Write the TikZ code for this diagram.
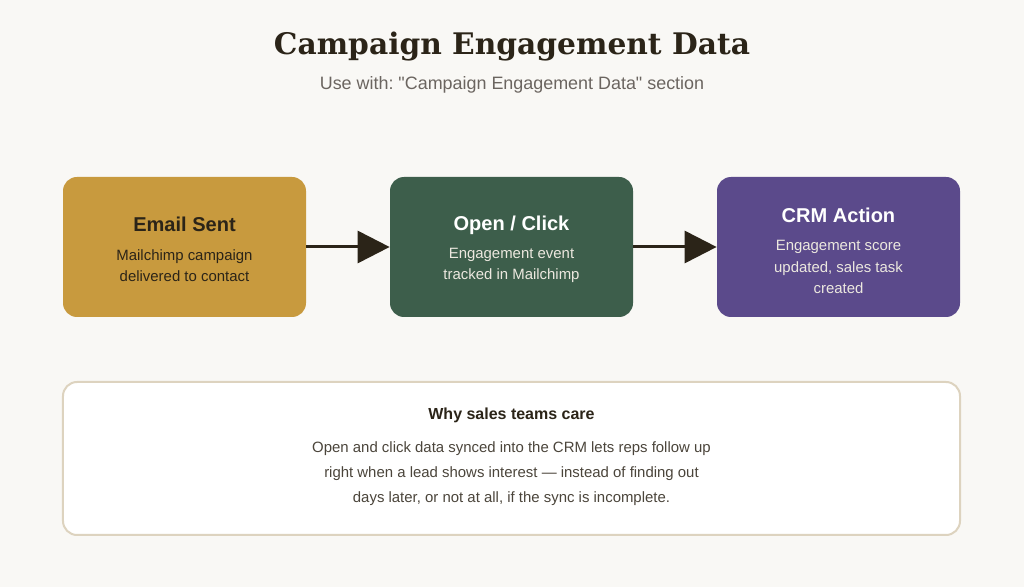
\documentclass[tikz,border=0pt]{standalone}
\usepackage{fontspec}
\setmainfont{Liberation Sans}
\newfontfamily\headserif{DejaVu Serif}
\frenchspacing
\definecolor{CEPaper}{HTML}{F9F8F5}
\definecolor{CEInk}{HTML}{2B2418}
\definecolor{CEGrey}{HTML}{6B6560}
\definecolor{CEGold}{HTML}{C89A3E}
\definecolor{CEGreen}{HTML}{3D5E4B}
\definecolor{CEPurple}{HTML}{5B4A8B}
\definecolor{CEFrame}{HTML}{DDD3BF}
\definecolor{CELight}{HTML}{ECE8DF}
\usetikzlibrary{positioning,arrows.meta}

\begin{document}
\begin{tikzpicture}[
    stage/.style={rectangle, rounded corners=0.28cm, fill=#1, draw=none,
      minimum width=4.86cm, minimum height=2.8cm},
    stagehead/.style={font=\fontsize{11.4}{13}\selectfont\bfseries, inner sep=0pt},
    stagetext/.style={font=\fontsize{8.5}{12.3}\selectfont, align=center, inner sep=0pt},
    flow/.style={-{Triangle[length=0.64cm,width=0.64cm]}, line width=0.06cm, draw=CEInk},
    every node/.style={text=CEInk}]
    \fill[CEPaper] (0,0) rectangle (20.48,11.74);
    \useasboundingbox (0,0) rectangle (20.48,11.74);
    \node[font=\headserif\fontsize{16.9}{20}\selectfont\bfseries] (title) at (10.24,10.8)
      {Campaign Engagement Data};
    \node[font=\fontsize{10.2}{12}\selectfont, text=CEGrey] (subtitle) at (10.24,10.04)
      {Use with: \textquotedbl Campaign Engagement Data\textquotedbl{} section};

    \node[stage=CEGold] (sent) at (3.69,6.8) {};
    \node[stage=CEGreen] (open) at (10.23,6.8) {};
    \node[stage=CEPurple] (crm) at (16.77,6.8) {};

    \node[stagehead] (sentT) at (3.69,7.26) {Email Sent};
    \node[stagetext] (sentB) at (3.69,6.43) {Mailchimp campaign\\delivered to contact};
    \node[stagehead, text=white] (openT) at (10.23,7.24) {Open / Click};
    \node[stagetext, text=CELight] (openB) at (10.23,6.43) {Engagement event\\tracked in Mailchimp};
    \node[stagehead, text=white] (crmT) at (16.77,7.44) {CRM Action};
    \node[stagetext, text=CELight] (crmB) at (16.77,6.4) {Engagement score\\updated, sales task\\created};

    \draw[flow] (sent) -- (open);
    \draw[flow] (open) -- (crm);

    \node[rectangle, rounded corners=0.28cm, fill=white, draw=CEFrame, line width=0.04cm,
      minimum width=17.94cm, minimum height=3.06cm] (why) at (10.23,2.57) {};
    \node[font=\fontsize{9.1}{11}\selectfont\bfseries, inner sep=0pt] (whyT) at (10.23,3.44)
      {Why sales teams care};
    \node[font=\fontsize{8.5}{14.2}\selectfont, align=center, inner sep=0pt, text=CEInk!85] (whyB) at (10.23,2.26)
      {Open and click data synced into the CRM lets reps follow up\\right when a lead shows interest --- instead of finding out\\days later, or not at all, if the sync is incomplete.};
\end{tikzpicture}
\end{document}
